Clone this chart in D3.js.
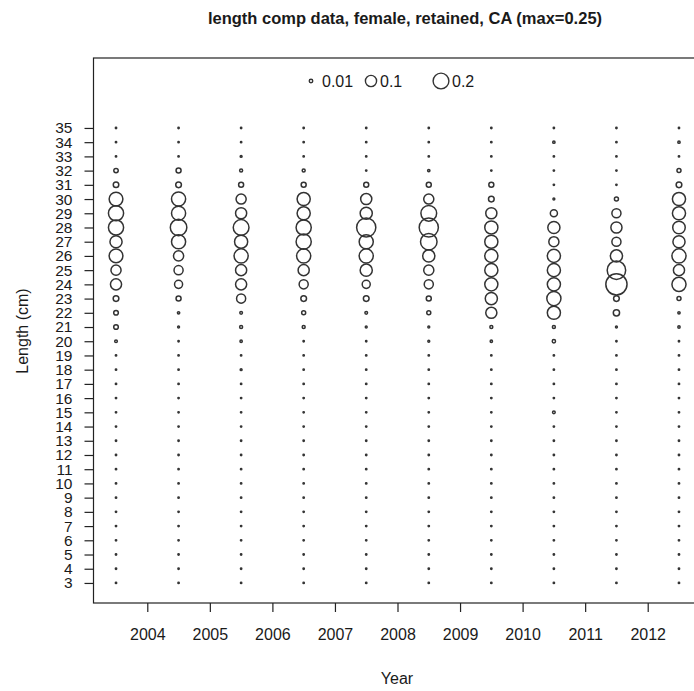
<!DOCTYPE html>
<html><head><meta charset="utf-8">
<script src="https://cdn.jsdelivr.net/npm/d3@7"></script>
<style>
body{margin:0;background:#fff;}
text{font-family:"Liberation Sans",Arial,Helvetica,sans-serif;fill:#1a1a1a;}
</style>
</head><body>
<svg id="chart" width="694" height="691"></svg>
<script>
// ---------------- data ----------------
const title = "length comp data, female, retained, CA (max=0.25)";
const xLabel = "Year";
const yLabel = "Length (cm)";
// bubble columns sit at mid-year positions
const years = [2003.5, 2004.5, 2005.5, 2006.5, 2007.5, 2008.5, 2009.5, 2010.5, 2011.5, 2012.5];
const yearTicks = [2004, 2005, 2006, 2007, 2008, 2009, 2010, 2011, 2012];
const lengths = [3,4,5,6,7,8,9,10,11,12,13,14,15,16,17,18,19,20,21,22,23,24,25,26,27,28,29,30,31,32,33,34,35];
const legendValues = [0.01, 0.1, 0.2];
const legendLabels = ["0.01", "0.1", "0.2"];

// proportions by length bin (3 .. 35 cm) for each column
const p2003 = [.001,.001,.001,.001,.001,.001,.001,.001,.001,.001,.001,.001,.001,.001,.001,.001,.001,
               .004,.012,.012,.018,.069,.057,.105,.082,.128,.128,.105,.017,.011,.001,.001,.001];
const p2004 = [.001,.001,.001,.001,.001,.001,.001,.001,.001,.001,.001,.001,.001,.001,.001,.001,.001,
               .001,.002,.003,.014,.036,.046,.057,.111,.152,.111,.111,.018,.014,.001,.001,.001];
const p2005 = [.001,.001,.001,.001,.001,.001,.001,.001,.001,.001,.001,.001,.001,.001,.001,.002,.001,
               .003,.005,.004,.046,.069,.069,.111,.096,.138,.069,.057,.014,.005,.002,.001,.001];
const p2006 = [.001,.001,.001,.001,.001,.001,.001,.001,.001,.001,.001,.001,.001,.001,.001,.001,.001,
               .001,.005,.009,.018,.046,.069,.111,.128,.128,.096,.096,.014,.005,.001,.001,.001];
const p2007 = [.001,.001,.001,.001,.001,.001,.001,.001,.001,.001,.001,.001,.001,.001,.001,.001,.001,
               .001,.002,.004,.018,.036,.082,.111,.111,.205,.082,.069,.014,.001,.001,.001,.001];
const p2008 = [.001,.001,.001,.001,.001,.001,.001,.001,.001,.001,.001,.001,.001,.001,.001,.001,.001,
               .002,.002,.009,.014,.046,.057,.082,.152,.205,.138,.057,.014,.003,.001,.001,.001];
const p2009 = [.001,.001,.001,.001,.001,.001,.001,.001,.001,.001,.001,.001,.001,.001,.001,.001,.001,
               .003,.005,.069,.082,.096,.096,.096,.096,.096,.069,.018,.014,.001,.001,.001,.001];
const p2010 = [.001,.001,.001,.001,.001,.001,.001,.001,.001,.001,.001,.001,.004,.001,.001,.001,.001,
               .006,.005,.096,.111,.096,.096,.096,.057,.082,.028,.002,.001,.001,.001,.003,.001];
const p2011 = [.001,.001,.001,.001,.001,.001,.001,.001,.001,.001,.001,.001,.001,.001,.001,.001,.001,
               .001,.002,.022,.018,.250,.190,.082,.046,.069,.046,.009,.001,.001,.001,.001,.001];
const p2012 = [.001,.001,.001,.001,.001,.001,.001,.001,.001,.001,.001,.001,.001,.001,.001,.001,.001,
               .001,.003,.003,.009,.111,.069,.111,.082,.087,.096,.096,.018,.009,.001,.003,.001];
const columns = [p2003, p2004, p2005, p2006, p2007, p2008, p2009, p2010, p2011, p2012];

// ---------------- chart ----------------
const svg = d3.select("#chart");

const x = d3.scaleLinear().domain([2003.14, 2012.86]).range([93.5, 701.5]);
const y = d3.scaleLinear().domain([1.59, 39.92]).range([603, 58]);
const r = d3.scaleSqrt().domain([0, 0.25]).range([0, 10.6]);
const rLegend = d3.scaleSqrt().domain([0, 0.2]).range([0, 7.9]);

// title
svg.append("text")
  .attr("x", 405).attr("y", 24)
  .attr("text-anchor", "middle")
  .style("font-weight", "bold").style("font-size", "16.5px")
  .text(title);

// plot box
svg.append("rect")
  .attr("x", x.range()[0]).attr("y", y.range()[1])
  .attr("width", x.range()[1] - x.range()[0])
  .attr("height", y.range()[0] - y.range()[1])
  .attr("fill", "none").attr("stroke", "#222").attr("stroke-width", 1.2);

// bubbles
const pts = [];
columns.forEach((col, i) => col.forEach((v, j) => pts.push({yr: years[i], len: lengths[j], v})));
svg.append("g").selectAll("circle").data(pts).join("circle")
  .attr("cx", d => x(d.yr)).attr("cy", d => y(d.len))
  .attr("r", d => r(d.v))
  .attr("fill", "none").attr("stroke", "#333").attr("stroke-width", 1.5);

// axes
const yAxis = svg.append("g").attr("transform", `translate(${x.range()[0]},0)`)
  .call(d3.axisLeft(y).tickValues(lengths).tickSize(9).tickPadding(12).tickFormat(d3.format("d")));
const xAxis = svg.append("g").attr("transform", `translate(0,${y.range()[0]})`)
  .call(d3.axisBottom(x).tickValues(yearTicks).tickSize(9).tickPadding(17).tickFormat(d3.format("d")));
[yAxis, xAxis].forEach(g => {
  g.select(".domain").remove();
  g.selectAll(".tick line").attr("stroke", "#222").attr("stroke-width", 1.2);
  g.selectAll(".tick text").style("font-size", "16px").style("font-family", "'Liberation Sans',Arial,sans-serif").attr("fill", "#1a1a1a");
});
yAxis.selectAll(".tick text").style("font-size", "15.5px");

// axis titles
svg.append("text").attr("x", 397).attr("y", 684).attr("text-anchor", "middle")
  .style("font-size", "16px").text(xLabel);
svg.append("text").attr("transform", "translate(28,331) rotate(-90)").attr("text-anchor", "middle")
  .style("font-size", "16px").text(yLabel);

// legend
const legY = 81;
const legItems = [{cx: 311, tx: 322}, {cx: 371, tx: 380}, {cx: 441, tx: 452}];
legendValues.forEach((v, i) => {
  svg.append("circle").attr("cx", legItems[i].cx).attr("cy", legY).attr("r", rLegend(v))
    .attr("fill", "none").attr("stroke", "#333").attr("stroke-width", 1.4);
  svg.append("text").attr("x", legItems[i].tx).attr("y", legY).attr("dy", "0.35em")
    .style("font-size", "16px").text(legendLabels[i]);
});
</script>
</body></html>
